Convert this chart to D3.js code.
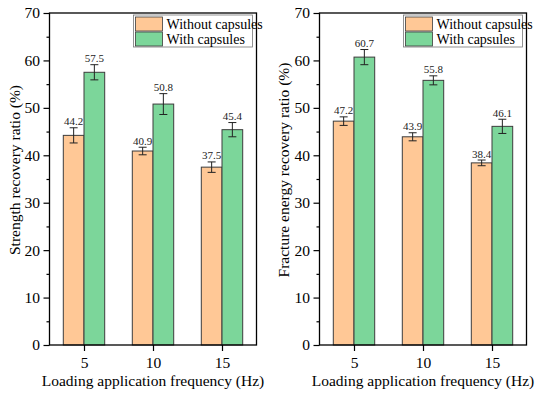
<!DOCTYPE html>
<html>
<head>
<meta charset="utf-8">
<script src="https://cdn.jsdelivr.net/npm/d3@7"></script>
<style>
	body{margin:0;background:#fff;}
	svg, svg text{font-family:"Liberation Serif","Times New Roman",serif;}
</style>
</head>
<body>
<svg id="chart" width="550" height="395"></svg>
<script>
//数据
var freqs = [5, 10, 15];
var seriesNames = ["Without capsules", "With capsules"];
var yTicks = [0, 10, 20, 30, 40, 50, 60, 70];
var yMinorTicks = [5, 15, 25, 35, 45, 55, 65];

var strengthWithout = [44.2, 40.9, 37.5];
var strengthWith = [57.5, 50.8, 45.4];
var strengthWithoutErr = [1.6, 0.8, 1.1];
var strengthWithErr = [1.6, 2.2, 1.5];

var energyWithout = [47.2, 43.9, 38.4];
var energyWith = [60.7, 55.8, 46.1];
var energyWithoutErr = [0.9, 0.85, 0.6];
var energyWithErr = [1.6, 0.95, 1.5];

var colors = ["#ffc896", "#7cd69a"];

var s = d3.select("#chart");

function drawPanel(left, right, yLabel, labelX, without, withC, withoutErr, withErr){
	var top = 13, bottom = 345;

	var x = d3.scaleLinear().domain([2.5, 17.5]).range([left, right]);
	var y = d3.scaleLinear().domain([0, 70]).range([bottom, top]);
	var bw = x(1.5) - x(0);

	var g = s.append("g");

	//柱子
	var dataset = [];
	freqs.forEach(function(f, i){
		dataset.push({f:f, v:without[i], e:withoutErr[i], k:0});
		dataset.push({f:f, v:withC[i], e:withErr[i], k:1});
	});

	g.selectAll("rect.bar")
		.data(dataset)
		.enter()
		.append("rect")
		.attr("class", "bar")
		.attr("x", function(d){
			return d.k == 0 ? x(d.f) - bw : x(d.f);
		})
		.attr("y", function(d){ return y(d.v); })
		.attr("width", bw)
		.attr("height", function(d){ return y(0) - y(d.v); })
		.attr("fill", function(d){ return colors[d.k]; })
		.attr("stroke", "#3c3c3c")
		.attr("stroke-width", 1);

	//误差线
	var eb = g.selectAll("g.err")
		.data(dataset)
		.enter()
		.append("g")
		.attr("class", "err")
		.attr("stroke", "#222")
		.attr("stroke-width", 1);
	function cx(d){ return d.k == 0 ? x(d.f) - bw / 2 : x(d.f) + bw / 2; }
	eb.append("line")
		.attr("x1", cx).attr("x2", cx)
		.attr("y1", function(d){ return y(d.v + d.e); })
		.attr("y2", function(d){ return y(d.v - d.e); });
	eb.append("line")
		.attr("x1", function(d){ return cx(d) - 4; })
		.attr("x2", function(d){ return cx(d) + 4; })
		.attr("y1", function(d){ return y(d.v + d.e); })
		.attr("y2", function(d){ return y(d.v + d.e); });
	eb.append("line")
		.attr("x1", function(d){ return cx(d) - 4; })
		.attr("x2", function(d){ return cx(d) + 4; })
		.attr("y1", function(d){ return y(d.v - d.e); })
		.attr("y2", function(d){ return y(d.v - d.e); });

	//数值标签
	g.selectAll("text.val")
		.data(dataset)
		.enter()
		.append("text")
		.attr("class", "val")
		.attr("x", cx)
		.attr("y", function(d){ return y(d.v + d.e) - 2.5; })
		.attr("text-anchor", "middle")
		.attr("font-size", "11px")
		.attr("fill", "#222")
		.text(function(d){ return d.v.toFixed(1); });

	//坐标轴
	var yAxis = d3.axisLeft(y).tickValues(yTicks).tickSize(6).tickPadding(3.5).tickFormat(d3.format("d"));
	var yMinor = d3.axisLeft(y).tickValues(yMinorTicks).tickSize(3).tickFormat("");
	var xAxis = d3.axisBottom(x).tickValues(freqs).tickSize(6).tickPadding(6);

	g.append("g").attr("transform", "translate(" + left + ",0)").call(yAxis);
	g.append("g").attr("transform", "translate(" + left + ",0)").call(yMinor);
	g.append("g").attr("transform", "translate(0," + bottom + ")").call(xAxis);

	g.selectAll(".domain").remove();
	g.selectAll(".tick line").attr("stroke", "#000").attr("stroke-width", 1.2);
	g.selectAll(".tick text")
		.attr("font-family", "Liberation Serif, Times New Roman, serif")
		.attr("font-size", "15.5px")
		.attr("fill", "#000");

	//边框
	g.append("rect")
		.attr("x", left)
		.attr("y", top)
		.attr("width", right - left)
		.attr("height", bottom - top)
		.attr("fill", "none")
		.attr("stroke", "#000")
		.attr("stroke-width", 1.3);

	//轴标题
	g.append("text")
		.attr("x", (left + right) / 2)
		.attr("y", 386)
		.attr("text-anchor", "middle")
		.attr("font-size", "15.5px")
		.text("Loading application frequency (Hz)");

	g.append("text")
		.attr("transform", "translate(" + labelX + "," + 170 + ") rotate(-90)")
		.attr("dy", "0.35em")
		.attr("text-anchor", "middle")
		.attr("font-size", "15.5px")
		.text(yLabel);

	//图例
	var lx = right - 123;
	g.append("rect")
		.attr("x", lx)
		.attr("y", 15)
		.attr("width", 119)
		.attr("height", 32)
		.attr("fill", "#fff")
		.attr("stroke", "#777")
		.attr("stroke-width", 0.8);
	var leg = g.selectAll("g.leg")
		.data(seriesNames)
		.enter()
		.append("g")
		.attr("class", "leg")
		.attr("transform", function(d, i){
			return "translate(" + (lx + 2) + "," + (17 + i * 15) + ")";
		});
	leg.append("rect")
		.attr("width", 27)
		.attr("height", 14)
		.attr("fill", function(d, i){ return colors[i]; })
		.attr("stroke", "#3c3c3c")
		.attr("stroke-width", 0.8);
	leg.append("text")
		.attr("x", 31)
		.attr("y", 12)
		.attr("font-size", "14px")
		.text(function(d){ return d; });
}

drawPanel(49.5, 256.5, "Strength recovery ratio (%)", 15,
	strengthWithout, strengthWith, strengthWithoutErr, strengthWithErr);
drawPanel(319.5, 526.5, "Fracture energy recovery ratio (%)", 284,
	energyWithout, energyWith, energyWithoutErr, energyWithErr);
</script>
</body>
</html>
